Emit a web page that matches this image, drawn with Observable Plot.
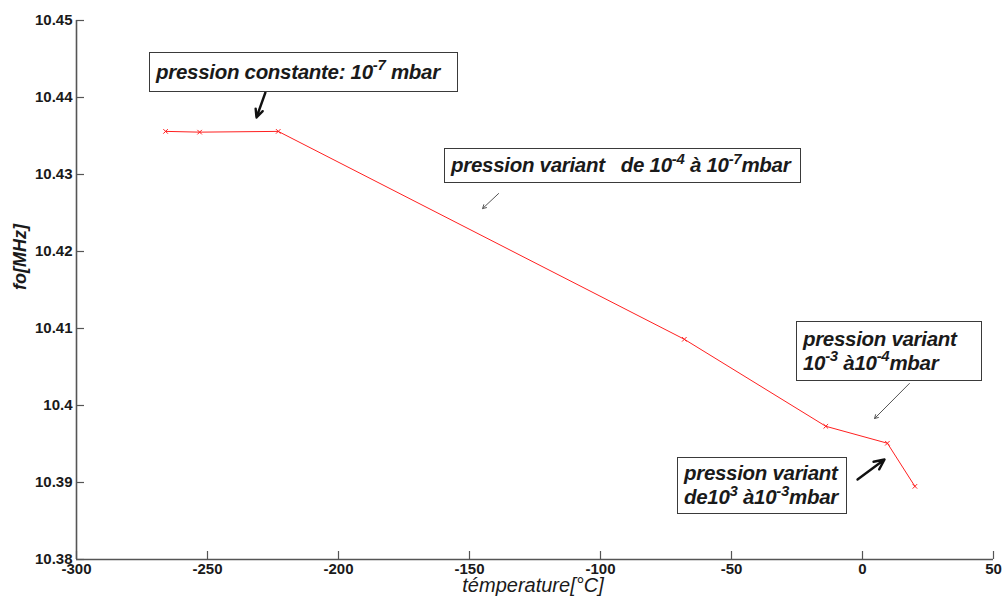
<!DOCTYPE html>
<html><head><meta charset="utf-8">
<script src="https://cdn.jsdelivr.net/npm/d3@7"></script>
<script src="https://cdn.jsdelivr.net/npm/@observablehq/plot@0.6"></script>
<style>
body{margin:0;background:#fff;}
#wrap{position:relative;width:1003px;height:604px;overflow:hidden;}
.box{position:absolute;border:1.5px solid #3a3a3a;background:#fff;font-family:"Liberation Sans",Arial,sans-serif;font-style:italic;font-weight:bold;font-size:20.5px;color:#1a1a1a;box-sizing:border-box;white-space:nowrap;line-height:24px;padding:0 6px;display:flex;flex-direction:column;justify-content:center;letter-spacing:-0.3px;}
.box span{display:block;}
.box sup{font-size:15px;line-height:0;position:relative;top:-1px;}
</style>
</head><body>
<div id="wrap"></div>
<script>
// Data series
const temperature = [-266, -253, -223, -68, -14, 9.5, 20];
const frequency   = [10.4356, 10.4355, 10.4356, 10.4086, 10.3973, 10.3951, 10.3895];
const xTicks = [-300, -250, -200, -150, -100, -50, 0, 50];
const yTicks = [10.38, 10.39, 10.40, 10.41, 10.42, 10.43, 10.44, 10.45];
const xLabel = "témperature[°C]";
const yLabel = "fo[MHz]";

// Annotation texts and their anchors (data units)
const boxTexts = [
  ["pression constante: 10<sup>-7</sup> mbar"],
  ["pression variant&nbsp;&nbsp; de 10<sup>-4</sup> à 10<sup>-7</sup>mbar"],
  ["pression variant", "10<sup>-3</sup> à10<sup>-4</sup>mbar"],
  ["pression variant", "de10<sup>3</sup> à10<sup>-3</sup>mbar"]
];
const boxX = [-272.1, -159.5, -25.2, -70.6];
const boxY = [10.44584, 10.43338, 10.41091, 10.39325];
const boxW = [309, 357, 186, 170];
const boxH = [40, 35, 60, 57];

const arrowX1 = [-227.9, -138.9, 17.9, -1.9];
const arrowY1 = [10.44065, 10.42753, 10.40286, 10.39039];
const arrowX2 = [-231.3, -145.0, 4.6, 8.4];
const arrowY2 = [10.43740, 10.42558, 10.39831, 10.39299];
const arrowBold = [true, false, false, true];

const points = temperature.map((t, i) => ({t, f: frequency[i]}));
const arrows = arrowX1.map((x1, i) => ({x1, y1: arrowY1[i], x2: arrowX2[i], y2: arrowY2[i], bold: arrowBold[i]}));

const W = 1003, H = 604;
const mL = 76, mR = 10, mT = 20, mB = 45;
const fw = W - mL - mR, fh = H - mT - mB;

const chart = Plot.plot({
  width: W, height: H,
  marginLeft: mL, marginRight: mR, marginTop: mT, marginBottom: mB,
  style: {fontFamily: "'Liberation Sans', Arial, sans-serif", fontSize: "15px", fontWeight: "bold", color: "#1a1a1a", background: "#fff"},
  x: {domain: [-300, 50]},
  y: {domain: [10.38, 10.45]},
  marks: [
    Plot.axisX({ticks: xTicks, tickSize: 0, tickPadding: 4, label: null, tickFormat: d => String(d)}),
    Plot.axisY({ticks: yTicks, tickSize: 0, tickPadding: 4, label: null, tickFormat: d => String(+d.toFixed(2))}),
    Plot.tickX(xTicks, {x: d => d, insetTop: fh - 8, stroke: "#555", strokeWidth: 1.2}),
    Plot.tickY(yTicks, {y: d => d, insetRight: fw - 8, stroke: "#555", strokeWidth: 1.2}),
    Plot.ruleX([-300], {stroke: "#555", strokeWidth: 1.6}),
    Plot.ruleY([10.38], {stroke: "#555", strokeWidth: 1.6}),
    Plot.line(points, {x: "t", y: "f", stroke: "#ff2020", strokeWidth: 1}),
    Plot.dot(points, {x: "t", y: "f", symbol: "times", r: 2.2, stroke: "#ff2020", strokeWidth: 1}),
    Plot.arrow(arrows.filter(d => !d.bold), {x1: "x1", y1: "y1", x2: "x2", y2: "y2", stroke: "#555", strokeWidth: 1, headLength: 6}),
    Plot.arrow(arrows.filter(d => d.bold), {x1: "x1", y1: "y1", x2: "x2", y2: "y2", stroke: "#111", strokeWidth: 2.4, headLength: 10, headAngle: 50}),
    Plot.text([xLabel], {frameAnchor: "bottom", dy: 32, text: d => d, fontStyle: "italic", fontWeight: "normal", fontSize: 20, dx: -2}),
    Plot.text([yLabel], {frameAnchor: "left", dx: -56, text: d => d, rotate: -90, fontStyle: "italic", fontWeight: "bold", fontSize: 18})
  ]
});

const wrap = document.getElementById("wrap");
wrap.appendChild(chart);
const sx = chart.scale("x"), sy = chart.scale("y");
boxTexts.forEach((lines, i) => {
  const d = document.createElement("div");
  d.className = "box";
  d.innerHTML = lines.map(l => "<span>" + l + "</span>").join("");
  d.style.left = sx.apply(boxX[i]) + "px";
  d.style.top = sy.apply(boxY[i]) + "px";
  d.style.width = boxW[i] + "px";
  d.style.height = boxH[i] + "px";
  wrap.appendChild(d);
});
</script>
</body></html>
